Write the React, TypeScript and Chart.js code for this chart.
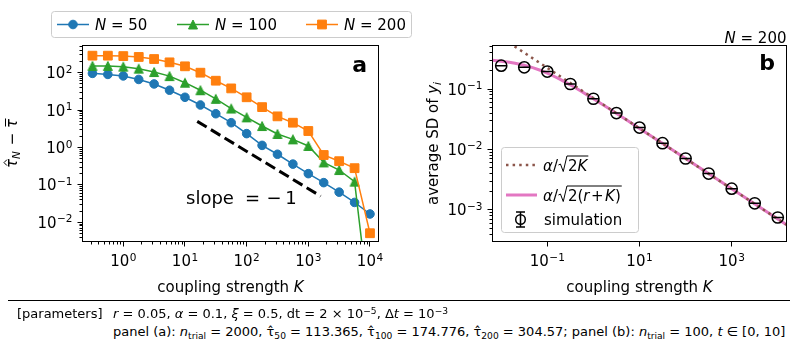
import React, { useEffect, useRef } from "react";
import { Chart, registerables } from "chart.js";
Chart.register(...registerables);

// ---------------- data ----------------
// panel (a)
const K_A = [0.316, 0.562, 1, 1.78, 3.16, 5.62, 10, 17.8, 31.6, 56.2, 100, 178, 316, 562, 1000, 1778, 3162, 5623, 10000];
const TAU_N50 = [96, 90, 82, 66, 50, 34, 22, 13.7, 8.0, 4.6, 2.35, 1.14, 0.66, 0.36, 0.2, 0.115, 0.064, 0.034, 0.0167];
const TAU_N100 = [152, 152, 145, 128, 104, 81, 54, 34, 20, 11, 6.4, 3.75, 2.3, 1.65, 1.1, 0.4, 0.25, 0.122, 0.00004];
const TAU_N200 = [285, 285, 278, 263, 232, 189, 148, 100, 61, 38, 22, 12, 6.8, 4.6, 2.76, 0.63, 0.43, 0.28, 0.0051];
const SLOPE_K = [15.8, 1585];
const SLOPE_Y = [5.0, 0.05];
const A_X_RANGE = [0.218, 13740];
const A_Y_RANGE = [0.00307, 533];
const A_X_MAJOR = [0, 1, 2, 3, 4];
const A_Y_MAJOR = [-2, -1, 0, 1, 2];

// panel (b)
const K_B = [0.01, 0.0316, 0.1, 0.316, 1, 3.16, 10, 31.6, 100, 316, 1000, 3162, 10000];
const SD_SIM = [0.243, 0.228, 0.194, 0.121, 0.069, 0.04, 0.023, 0.0127, 0.0071, 0.004, 0.00225, 0.00129, 0.00075];
const CURVE_K = [0.00647, 0.01, 0.015, 0.02, 0.03, 0.05, 0.07, 0.1, 0.15, 0.2, 0.3, 0.5, 0.7, 1, 2, 3, 5, 10, 30, 100, 1000, 10000, 15460];
const CURVE_RK = [0.2975, 0.2887, 0.2774, 0.2673, 0.25, 0.2236, 0.2041, 0.1826, 0.1581, 0.1414, 0.1195, 0.0953, 0.0816, 0.069, 0.0494, 0.0405, 0.0315, 0.0223, 0.0129, 0.00707, 0.002236, 0.000707, 0.000569];
const LINE_K = [0.00647, 15460];
const LINE_2K = [0.879, 0.000569];
const B_X_RANGE = [0.00647, 15460];
const B_Y_RANGE = [0.000301, 0.524];
const B_X_MAJOR = [-1, 1, 3];
const B_Y_MAJOR = [-3, -2, -1];

const BLUE = "#1f77b4";
const GREEN = "#2ca02c";
const ORANGE = "#ff7f0e";
const BROWN = "#8c564b";
const PINK = "#e377c2";

const FF = "'DejaVu Sans', 'Noto Sans', sans-serif";
const fN = (s: number) => `${s}px ${FF}`;
const fI = (s: number) => `italic ${s}px ${FF}`;
const fB = (s: number) => `bold ${s}px ${FF}`;

type Piece = { t: string; f: string; dy?: number; gap?: number };

function drawRich(ctx: CanvasRenderingContext2D, ps: Piece[], x: number, y: number, align: "left" | "center" | "right") {
  let w = 0;
  for (const p of ps) {
    ctx.font = p.f;
    w += ctx.measureText(p.t).width + (p.gap || 0);
  }
  let cx = align === "left" ? x : align === "center" ? x - w / 2 : x - w;
  ctx.textAlign = "left";
  ctx.textBaseline = "alphabetic";
  for (const p of ps) {
    ctx.font = p.f;
    ctx.fillText(p.t, cx, y + (p.dy || 0));
    cx += ctx.measureText(p.t).width + (p.gap || 0);
  }
  return w;
}

function drawPow(ctx: CanvasRenderingContext2D, e: number, x: number, y: number, align: "center" | "right") {
  const sup = e < 0 ? "\u2212" + String(-e) : String(e);
  drawRich(ctx, [
    { t: "10", f: fN(15), gap: 0.5 },
    { t: sup, f: fN(10.5), dy: -5.5 },
  ], x, y, align);
}

function drawLogAxes(chart: any, xMajor: number[], xMinor: boolean, yMajor: number[], yMinor: boolean) {
  const ctx: CanvasRenderingContext2D = chart.ctx;
  const a = chart.chartArea;
  const xs = chart.scales.x;
  const ys = chart.scales.y;
  ctx.save();
  ctx.strokeStyle = "#000";
  ctx.fillStyle = "#000";
  ctx.lineWidth = 1;
  const snap = (p: number) => Math.round(p - 0.5) + 0.5;
  // x ticks
  const ex0 = Math.floor(Math.log10(xs.min)), ex1 = Math.ceil(Math.log10(xs.max));
  for (let e = ex0; e <= ex1; e++) {
    for (let m = 1; m <= 9; m++) {
      const v = m * Math.pow(10, e);
      if (v < xs.min * 0.9999 || v > xs.max * 1.0001) continue;
      const major = m === 1 && xMajor.includes(e);
      if (!major && (!xMinor || m === 1)) continue;
      const px = snap(xs.getPixelForValue(v));
      ctx.beginPath();
      ctx.moveTo(px, a.bottom);
      ctx.lineTo(px, a.bottom + (major ? 5 : 3));
      ctx.stroke();
      if (major) drawPow(ctx, e, xs.getPixelForValue(v), a.bottom + 24.5, "center");
    }
  }
  // y ticks
  const ey0 = Math.floor(Math.log10(ys.min)), ey1 = Math.ceil(Math.log10(ys.max));
  for (let e = ey0; e <= ey1; e++) {
    for (let m = 1; m <= 9; m++) {
      const v = m * Math.pow(10, e);
      if (v < ys.min * 0.9999 || v > ys.max * 1.0001) continue;
      const major = m === 1 && yMajor.includes(e);
      if (!major && (!yMinor || m === 1)) continue;
      const py = snap(ys.getPixelForValue(v));
      ctx.beginPath();
      ctx.moveTo(a.left, py);
      ctx.lineTo(a.left - (major ? 5 : 3), py);
      ctx.stroke();
      if (major) drawPow(ctx, e, a.left - 10, ys.getPixelForValue(v) + 5.5, "right");
    }
  }
  ctx.strokeRect(a.left, a.top, a.right - a.left, a.bottom - a.top);
  ctx.restore();
}

function roundRect(ctx: CanvasRenderingContext2D, x: number, y: number, w: number, h: number, r: number) {
  ctx.beginPath();
  ctx.moveTo(x + r, y);
  ctx.lineTo(x + w - r, y);
  ctx.arcTo(x + w, y, x + w, y + r, r);
  ctx.lineTo(x + w, y + h - r);
  ctx.arcTo(x + w, y + h, x + w - r, y + h, r);
  ctx.lineTo(x + r, y + h);
  ctx.arcTo(x, y + h, x, y + h - r, r);
  ctx.lineTo(x, y + r);
  ctx.arcTo(x, y, x + r, y, r);
  ctx.closePath();
}

function drawMarker(ctx: CanvasRenderingContext2D, kind: string, x: number, y: number, color: string) {
  ctx.save();
  ctx.fillStyle = color;
  ctx.strokeStyle = color;
  ctx.lineWidth = 1;
  ctx.beginPath();
  if (kind === "circle") ctx.arc(x, y, 4.3, 0, Math.PI * 2);
  else if (kind === "rect") ctx.rect(x - 4.4, y - 4.4, 8.8, 8.8);
  else {
    ctx.moveTo(x, y - 4.5);
    ctx.lineTo(x - 4.5, y + 4.5);
    ctx.lineTo(x + 4.5, y + 4.5);
    ctx.closePath();
  }
  ctx.fill();
  ctx.stroke();
  ctx.restore();
}

function makeTriangle(color: string) {
  const c = document.createElement("canvas");
  c.width = 12;
  c.height = 12;
  const g = c.getContext("2d")!;
  drawMarker(g, "tri", 6, 6, color);
  return c;
}

function xyData(xs: number[], ys: number[]) {
  return xs.map((x, i) => ({ x, y: ys[i] }));
}

const legendA = [
  { x: 57, color: BLUE, kind: "circle", label: "50" },
  { x: 177, color: GREEN, kind: "tri", label: "100" },
  { x: 306, color: ORANGE, kind: "rect", label: "200" },
];

const pluginA = {
  id: "panelA",
  afterDraw(chart: any) {
    const ctx: CanvasRenderingContext2D = chart.ctx;
    drawLogAxes(chart, A_X_MAJOR, true, A_Y_MAJOR, true);
    const a = chart.chartArea;
    ctx.save();
    ctx.fillStyle = "#000";
    // panel letter
    drawRich(ctx, [{ t: "a", f: fB(22) }], a.right - 11.5, 71.5, "right");
    // slope annotation
    ctx.textAlign = "center";
    ctx.font = fN(18);
    ctx.fillText("slope", 210, 203.5);
    ctx.fillText("=", 252.5, 203.5);
    ctx.fillText("\u2212", 274, 203.5);
    ctx.fillText("1", 291, 203.5);
    // x label
    drawRich(ctx, [{ t: "coupling strength ", f: fN(15) }, { t: "K", f: fI(15) }], (a.left + a.right) / 2, 291.5, "center");
    // y label
    ctx.translate(17, (a.top + a.bottom) / 2);
    ctx.rotate(-Math.PI / 2);
    ctx.font = fI(15);
    const wt = ctx.measureText("\u03c4").width;
    ctx.font = fI(10.5);
    const wn = ctx.measureText("N").width;
    ctx.font = fN(15);
    const wm = ctx.measureText(" \u2212 ").width;
    const total = wt + wn + 1 + wm + wt;
    let x = -total / 2;
    ctx.textAlign = "left";
    ctx.strokeStyle = "#000";
    ctx.lineWidth = 1;
    ctx.font = fI(15);
    ctx.fillText("\u03c4", x, 0);
    const hc = x + wt * 0.6;
    ctx.beginPath();
    ctx.moveTo(hc - 3, -10);
    ctx.lineTo(hc, -13);
    ctx.lineTo(hc + 3, -10);
    ctx.stroke();
    x += wt;
    ctx.font = fI(10.5);
    ctx.fillText("N", x, 3);
    x += wn + 1;
    ctx.font = fN(15);
    ctx.fillText(" \u2212 ", x, 0);
    x += wm;
    ctx.font = fI(15);
    ctx.fillText("\u03c4", x, 0);
    ctx.beginPath();
    ctx.moveTo(x + 1.5, -11.5);
    ctx.lineTo(x + wt + 0.5, -11.5);
    ctx.stroke();
    ctx.restore();

    // legend (top)
    ctx.save();
    roundRect(ctx, 51.5, 11.5, 360, 26, 3);
    ctx.fillStyle = "rgba(255,255,255,0.8)";
    ctx.fill();
    ctx.strokeStyle = "#cccccc";
    ctx.lineWidth = 1;
    ctx.stroke();
    for (const it of legendA) {
      ctx.strokeStyle = it.color;
      ctx.lineWidth = 1.5;
      ctx.beginPath();
      ctx.moveTo(it.x, 24.5);
      ctx.lineTo(it.x + 32, 24.5);
      ctx.stroke();
      drawMarker(ctx, it.kind, it.x + 16, 24.5, it.color);
      ctx.fillStyle = "#000";
      drawRich(ctx, [{ t: "N", f: fI(15) }, { t: " = " + it.label, f: fN(15) }], it.x + 38, 29.5, "left");
    }
    ctx.restore();
  },
};

function drawRadicalText(ctx: CanvasRenderingContext2D, x: number, base: number, pieces: Piece[]) {
  let cx = x;
  ctx.font = fI(15);
  ctx.fillText("\u03b1", cx, base);
  cx += ctx.measureText("\u03b1").width;
  ctx.font = fN(15);
  ctx.fillText("/", cx, base);
  cx += ctx.measureText("/").width;
  const r0 = cx + 0.5;
  const rw = drawRich(ctx, pieces, r0 + 9.5, base, "left");
  ctx.beginPath();
  ctx.moveTo(r0, base - 5.5);
  ctx.lineTo(r0 + 2, base - 6.5);
  ctx.lineTo(r0 + 4.8, base + 1);
  ctx.lineTo(r0 + 8.5, base - 14.5);
  ctx.lineTo(r0 + 9.5 + rw + 1, base - 14.5);
  ctx.stroke();
}

const pluginB = {
  id: "panelB",
  afterDraw(chart: any) {
    const ctx: CanvasRenderingContext2D = chart.ctx;
    drawLogAxes(chart, B_X_MAJOR, false, B_Y_MAJOR, true);
    const a = chart.chartArea;
    ctx.save();
    ctx.fillStyle = "#000";
    drawRich(ctx, [{ t: "b", f: fB(22) }], a.right - 11.5, 70, "right");
    drawRich(ctx, [{ t: "N", f: fI(15) }, { t: " = 200", f: fN(15) }], a.right, 43.3, "right");
    drawRich(ctx, [{ t: "coupling strength ", f: fN(15) }, { t: "K", f: fI(15) }], (a.left + a.right) / 2, 291.5, "center");
    // y label
    ctx.save();
    ctx.translate(38, (a.top + a.bottom) / 2);
    ctx.rotate(-Math.PI / 2);
    drawRich(ctx, [
      { t: "average SD of ", f: fN(15) },
      { t: "y", f: fI(15) },
      { t: "i", f: fI(10.5), dy: 3 },
    ], 0, 0, "center");
    ctx.restore();

    // legend box
    roundRect(ctx, 101.5, 147.5, 137, 85, 3);
    ctx.fillStyle = "rgba(255,255,255,0.8)";
    ctx.fill();
    ctx.strokeStyle = "#cccccc";
    ctx.lineWidth = 1;
    ctx.stroke();
    // dotted
    ctx.strokeStyle = BROWN;
    ctx.lineWidth = 2.5;
    ctx.setLineDash([2.5, 4.1]);
    ctx.beginPath();
    ctx.moveTo(106, 165);
    ctx.lineTo(136, 165);
    ctx.stroke();
    ctx.setLineDash([]);
    // pink
    ctx.strokeStyle = PINK;
    ctx.lineWidth = 3;
    ctx.beginPath();
    ctx.moveTo(106, 195);
    ctx.lineTo(137, 195);
    ctx.stroke();
    // error bar symbol
    ctx.strokeStyle = "#000";
    ctx.lineWidth = 1.5;
    ctx.beginPath();
    ctx.moveTo(120.5, 212);
    ctx.lineTo(120.5, 227);
    ctx.moveTo(116, 212);
    ctx.lineTo(125, 212);
    ctx.moveTo(116, 227);
    ctx.lineTo(125, 227);
    ctx.stroke();
    ctx.beginPath();
    ctx.arc(120.5, 219.5, 4.8, 0, Math.PI * 2);
    ctx.stroke();
    // texts
    ctx.fillStyle = "#000";
    ctx.strokeStyle = "#000";
    ctx.lineWidth = 1;
    ctx.textAlign = "left";
    ctx.textBaseline = "alphabetic";
    drawRadicalText(ctx, 143, 170.5, [{ t: "2", f: fN(15) }, { t: "K", f: fI(15) }]);
    drawRadicalText(ctx, 143, 200.5, [
      { t: "2(", f: fN(15) },
      { t: "r", f: fI(15), gap: 1.5 },
      { t: "+", f: fN(15), gap: 1.5 },
      { t: "K", f: fI(15) },
      { t: ")", f: fN(15) },
    ]);
    ctx.font = fN(15);
    ctx.fillText("simulation", 144, 224.5);
    ctx.restore();
  },
};

function baseOptions(xr: number[], yr: number[], padding: any) {
  return {
    responsive: false,
    animation: false as const,
    devicePixelRatio: 1,
    events: [] as any[],
    layout: { padding },
    scales: {
      x: { type: "logarithmic" as const, min: xr[0], max: xr[1], display: false, bounds: "data" as const },
      y: { type: "logarithmic" as const, min: yr[0], max: yr[1], display: false, bounds: "data" as const },
    },
    plugins: { legend: { display: false }, tooltip: { enabled: false } },
  };
}

export default function App() {
  const refA = useRef<HTMLCanvasElement>(null);
  const refB = useRef<HTMLCanvasElement>(null);

  useEffect(() => {
    const tri = makeTriangle(GREEN);
    const chartB = new Chart(refB.current!, {
      type: "line",
      data: {
        datasets: [
          {
            data: xyData(K_B, SD_SIM), showLine: false, pointStyle: "circle", pointRadius: 5.6, pointBorderWidth: 1.5,
            pointBorderColor: "#000", pointBackgroundColor: "rgba(0,0,0,0)",
          },
          {
            data: xyData(K_B, SD_SIM), showLine: false, pointStyle: "line", pointRadius: 5.6, pointBorderWidth: 1.5,
            pointBorderColor: "#000",
          },
          { data: xyData(LINE_K, LINE_2K), borderColor: BROWN, borderWidth: 2.5, borderDash: [2.5, 4.1], pointRadius: 0 },
          { data: xyData(CURVE_K, CURVE_RK), borderColor: PINK, borderWidth: 3, pointRadius: 0 },
        ] as any,
      },
      options: baseOptions(B_X_RANGE, B_Y_RANGE, { left: 92.5, right: 11.5, top: 45.5, bottom: 58.5 }) as any,
      plugins: [pluginB],
    });
    const chartA = new Chart(refA.current!, {
      type: "line",
      data: {
        datasets: [
          { data: xyData(SLOPE_K, SLOPE_Y), borderColor: "#000", borderWidth: 3, borderDash: [11, 5], pointRadius: 0 },
          {
            data: xyData(K_A, TAU_N200), borderColor: ORANGE, borderWidth: 1.5, pointStyle: "rect", pointRadius: 6.2,
            pointBorderWidth: 1, pointBackgroundColor: ORANGE, pointBorderColor: ORANGE,
          },
          {
            data: xyData(K_A, TAU_N100), borderColor: GREEN, borderWidth: 1.5, pointStyle: tri as any, pointRadius: 5,
            pointBackgroundColor: GREEN, pointBorderColor: GREEN,
          },
          {
            data: xyData(K_A, TAU_N50), borderColor: BLUE, borderWidth: 1.5, pointStyle: "circle", pointRadius: 4.3,
            pointBorderWidth: 1, pointBackgroundColor: BLUE, pointBorderColor: BLUE,
          },
        ] as any,
      },
      options: baseOptions(A_X_RANGE, A_Y_RANGE, { left: 82.5, right: 51.5, top: 45.5, bottom: 58.5 }) as any,
      plugins: [pluginA],
    });
    return () => {
      chartA.destroy();
      chartB.destroy();
    };
  }, []);

  const txt: React.CSSProperties = {
    position: "absolute",
    fontFamily: FF,
    fontSize: "13px",
    lineHeight: "15px",
    whiteSpace: "nowrap",
    color: "#000",
  };
  const sub: React.CSSProperties = { fontSize: "70%", position: "relative", top: "0.3em" };
  const sup: React.CSSProperties = { fontSize: "70%", position: "relative", top: "-0.45em" };

  return (
    <div style={{ position: "absolute", left: 0, top: 0, width: 798, height: 354, background: "#fff", overflow: "hidden" }}>
      <canvas ref={refB} width={398} height={300} style={{ position: "absolute", left: 400, top: 0 }} />
      <canvas ref={refA} width={430} height={300} style={{ position: "absolute", left: 0, top: 0 }} />
      <div style={{ position: "absolute", left: 8, top: 300, width: 782, height: 1, background: "#000" }} />
      <div style={{ ...txt, left: 17, top: 306 }}>[parameters]</div>
      <div style={{ ...txt, left: 113, top: 306 }}>
        <i>r</i> = 0.05, <i>α</i> = 0.1, <i>ξ</i> = 0.5, dt = 2 × 10<span style={sup}>−5</span>, Δ<i>t</i> = 10<span style={sup}>−3</span>
      </div>
      <div style={{ ...txt, left: 113, top: 324 }}>
        panel (a): <i>n</i><span style={sub}>trial</span> = 2000, τ̂<span style={sub}>50</span> = 113.365, τ̂<span style={sub}>100</span> = 174.776, τ̂<span style={sub}>200</span> = 304.57; panel (b): <i>n</i><span style={sub}>trial</span> = 100, <i>t</i> ∈ [0, 10]
      </div>
    </div>
  );
}
